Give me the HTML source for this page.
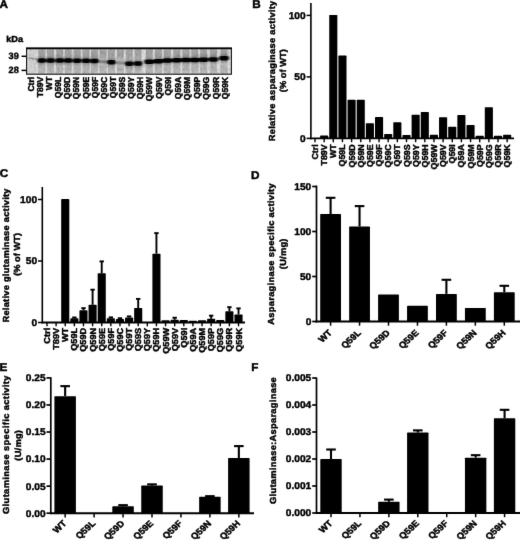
<!DOCTYPE html>
<html><head><meta charset="utf-8"><title>Figure</title>
<style>
html,body{margin:0;padding:0;background:#fff;}
body{width:520px;height:540px;overflow:hidden;}
svg{display:block;font-family:"Liberation Sans", sans-serif;font-weight:bold;fill:#000;text-rendering:geometricPrecision;}
text{stroke:#000;stroke-width:0.45px;stroke-linejoin:round;}
text.tk{stroke-width:0.4px;}
</style></head><body>
<svg width="520" height="540" viewBox="0 0 520 540">
<defs><filter id="soft" x="0" y="0" width="520" height="540" filterUnits="userSpaceOnUse" color-interpolation-filters="sRGB"><feConvolveMatrix order="3" kernelMatrix="1 12 1 12 144 12 1 12 1" divisor="196" edgeMode="duplicate" preserveAlpha="false"/></filter></defs>
<rect x="0" y="0" width="520" height="540" fill="#fff"/>
<g filter="url(#soft)">
<rect x="0" y="0" width="520" height="540" fill="#fff"/>
<text transform="translate(-0.40,8.10) scale(1.05,1)" font-size="11.2" text-anchor="start" >A</text>
<text transform="translate(6.20,42.00) scale(1.04,1)" font-size="8.8" text-anchor="start" >kDa</text>
<text transform="translate(8.60,58.80)" font-size="9.2" text-anchor="start" class="tk">39</text>
<text transform="translate(8.60,73.40)" font-size="9.2" text-anchor="start" class="tk">28</text>
<line x1="21.50" y1="56.30" x2="26.50" y2="56.30" stroke="#000" stroke-width="1.5"/>
<line x1="21.50" y1="70.40" x2="26.50" y2="70.40" stroke="#000" stroke-width="1.5"/>
<defs>
<filter id="b1" x="-20%" y="-50%" width="140%" height="200%" color-interpolation-filters="sRGB"><feGaussianBlur stdDeviation="0.8 0.7"/></filter>
<filter id="b2" x="-20%" y="-20%" width="140%" height="140%" color-interpolation-filters="sRGB"><feGaussianBlur stdDeviation="0.7 1.6"/></filter>
<filter id="b3" x="-30%" y="-60%" width="160%" height="220%" color-interpolation-filters="sRGB"><feGaussianBlur stdDeviation="1.2 1.8"/></filter>
<filter id="nz" x="0" y="0" width="100%" height="100%" color-interpolation-filters="sRGB"><feTurbulence type="fractalNoise" baseFrequency="0.5 0.35" numOctaves="2" seed="3" result="t"/><feColorMatrix type="matrix" values="0 0 0 0 0  0 0 0 0 0  0 0 0 0 0  0.9 0 0 0 -0.32"/></filter>
<clipPath id="gc"><rect x="26.6" y="48" width="204.8" height="26.200000000000003"/></clipPath>
</defs>
<rect x="26.60" y="48.00" width="204.80" height="26.20" fill="#dedede"/>
<g clip-path="url(#gc)">
<g filter="url(#b2)">
<rect x="28.90" y="48" width="7.2" height="26.200000000000003" fill="#000" opacity="0.04"/>
<rect x="38.30" y="48" width="7.0" height="26.200000000000003" fill="#000" opacity="0.15"/>
<rect x="38.30" y="49.5" width="7.0" height="8" fill="#000" opacity="0.13"/>
<rect x="38.10" y="67" width="7.4" height="3" fill="#000" opacity="0.06"/>
<rect x="47.10" y="48" width="7.0" height="26.200000000000003" fill="#000" opacity="0.15"/>
<rect x="47.10" y="49.5" width="7.0" height="8" fill="#000" opacity="0.13"/>
<rect x="46.90" y="67" width="7.4" height="3" fill="#000" opacity="0.06"/>
<rect x="56.20" y="48" width="7.0" height="26.200000000000003" fill="#000" opacity="0.15"/>
<rect x="56.20" y="49.5" width="7.0" height="8" fill="#000" opacity="0.13"/>
<rect x="56.00" y="67" width="7.4" height="3" fill="#000" opacity="0.06"/>
<rect x="64.70" y="48" width="7.0" height="26.200000000000003" fill="#000" opacity="0.15"/>
<rect x="64.70" y="49.5" width="7.0" height="8" fill="#000" opacity="0.13"/>
<rect x="64.50" y="67" width="7.4" height="3" fill="#000" opacity="0.06"/>
<rect x="73.60" y="48" width="7.0" height="26.200000000000003" fill="#000" opacity="0.15"/>
<rect x="73.60" y="49.5" width="7.0" height="8" fill="#000" opacity="0.13"/>
<rect x="73.40" y="67" width="7.4" height="3" fill="#000" opacity="0.06"/>
<rect x="82.50" y="48" width="7.0" height="26.200000000000003" fill="#000" opacity="0.15"/>
<rect x="82.50" y="49.5" width="7.0" height="8" fill="#000" opacity="0.13"/>
<rect x="82.30" y="67" width="7.4" height="3" fill="#000" opacity="0.06"/>
<rect x="91.00" y="48" width="7.0" height="26.200000000000003" fill="#000" opacity="0.15"/>
<rect x="91.00" y="49.5" width="7.0" height="8" fill="#000" opacity="0.13"/>
<rect x="90.80" y="67" width="7.4" height="3" fill="#000" opacity="0.06"/>
<rect x="99.50" y="48" width="7.0" height="26.200000000000003" fill="#000" opacity="0.15"/>
<rect x="99.50" y="49.5" width="7.0" height="8" fill="#000" opacity="0.13"/>
<rect x="99.30" y="67" width="7.4" height="3" fill="#000" opacity="0.06"/>
<rect x="107.90" y="48" width="7.0" height="26.200000000000003" fill="#000" opacity="0.15"/>
<rect x="107.90" y="49.5" width="7.0" height="8" fill="#000" opacity="0.13"/>
<rect x="107.70" y="67" width="7.4" height="3" fill="#000" opacity="0.06"/>
<rect x="116.80" y="48" width="7.0" height="26.200000000000003" fill="#000" opacity="0.15"/>
<rect x="116.80" y="49.5" width="7.0" height="8" fill="#000" opacity="0.13"/>
<rect x="116.60" y="67" width="7.4" height="3" fill="#000" opacity="0.06"/>
<rect x="125.70" y="48" width="7.0" height="26.200000000000003" fill="#000" opacity="0.15"/>
<rect x="125.70" y="49.5" width="7.0" height="8" fill="#000" opacity="0.13"/>
<rect x="125.50" y="67" width="7.4" height="3" fill="#000" opacity="0.06"/>
<rect x="134.50" y="48" width="7.0" height="26.200000000000003" fill="#000" opacity="0.15"/>
<rect x="134.50" y="49.5" width="7.0" height="8" fill="#000" opacity="0.13"/>
<rect x="134.30" y="67" width="7.4" height="3" fill="#000" opacity="0.06"/>
<rect x="145.80" y="48" width="7.0" height="26.200000000000003" fill="#000" opacity="0.15"/>
<rect x="145.80" y="49.5" width="7.0" height="8" fill="#000" opacity="0.13"/>
<rect x="145.60" y="67" width="7.4" height="3" fill="#000" opacity="0.06"/>
<rect x="154.90" y="48" width="7.0" height="26.200000000000003" fill="#000" opacity="0.15"/>
<rect x="154.90" y="49.5" width="7.0" height="8" fill="#000" opacity="0.13"/>
<rect x="154.70" y="67" width="7.4" height="3" fill="#000" opacity="0.06"/>
<rect x="163.80" y="48" width="7.0" height="26.200000000000003" fill="#000" opacity="0.15"/>
<rect x="163.80" y="49.5" width="7.0" height="8" fill="#000" opacity="0.13"/>
<rect x="163.60" y="67" width="7.4" height="3" fill="#000" opacity="0.06"/>
<rect x="173.30" y="48" width="7.0" height="26.200000000000003" fill="#000" opacity="0.15"/>
<rect x="173.30" y="49.5" width="7.0" height="8" fill="#000" opacity="0.13"/>
<rect x="173.10" y="67" width="7.4" height="3" fill="#000" opacity="0.06"/>
<rect x="182.50" y="48" width="7.0" height="26.200000000000003" fill="#000" opacity="0.15"/>
<rect x="182.50" y="49.5" width="7.0" height="8" fill="#000" opacity="0.13"/>
<rect x="182.30" y="67" width="7.4" height="3" fill="#000" opacity="0.06"/>
<rect x="191.30" y="48" width="7.0" height="26.200000000000003" fill="#000" opacity="0.15"/>
<rect x="191.30" y="49.5" width="7.0" height="8" fill="#000" opacity="0.13"/>
<rect x="191.10" y="67" width="7.4" height="3" fill="#000" opacity="0.06"/>
<rect x="200.20" y="48" width="7.0" height="26.200000000000003" fill="#000" opacity="0.15"/>
<rect x="200.20" y="49.5" width="7.0" height="8" fill="#000" opacity="0.13"/>
<rect x="200.00" y="67" width="7.4" height="3" fill="#000" opacity="0.06"/>
<rect x="209.90" y="48" width="7.0" height="26.200000000000003" fill="#000" opacity="0.15"/>
<rect x="209.90" y="49.5" width="7.0" height="8" fill="#000" opacity="0.13"/>
<rect x="209.70" y="67" width="7.4" height="3" fill="#000" opacity="0.06"/>
<rect x="220.50" y="48" width="7.0" height="26.200000000000003" fill="#000" opacity="0.15"/>
<rect x="220.50" y="49.5" width="7.0" height="8" fill="#000" opacity="0.13"/>
<rect x="220.30" y="67" width="7.4" height="3" fill="#000" opacity="0.06"/>
</g>
<rect x="26.6" y="48" width="204.8" height="26.200000000000003" filter="url(#nz)" opacity="0.30"/>
<g filter="url(#b3)">
<rect x="37.50" y="57.00" width="8.6" height="7.2" rx="2" fill="#000" opacity="0.30"/>
<rect x="46.30" y="57.00" width="8.6" height="7.2" rx="2" fill="#000" opacity="0.30"/>
<rect x="55.40" y="57.00" width="8.6" height="7.2" rx="2" fill="#000" opacity="0.30"/>
<rect x="63.90" y="57.00" width="8.6" height="7.2" rx="2" fill="#000" opacity="0.30"/>
<rect x="72.80" y="57.10" width="8.6" height="7.2" rx="2" fill="#000" opacity="0.30"/>
<rect x="81.70" y="57.20" width="8.6" height="7.2" rx="2" fill="#000" opacity="0.30"/>
<rect x="90.20" y="57.30" width="8.6" height="7.2" rx="2" fill="#000" opacity="0.30"/>
<rect x="107.10" y="58.60" width="8.6" height="7.2" rx="2" fill="#000" opacity="0.30"/>
<rect x="124.90" y="60.10" width="8.6" height="7.2" rx="2" fill="#000" opacity="0.30"/>
<rect x="133.70" y="60.00" width="8.6" height="7.2" rx="2" fill="#000" opacity="0.30"/>
<rect x="145.00" y="58.20" width="8.6" height="7.2" rx="2" fill="#000" opacity="0.30"/>
<rect x="154.10" y="57.60" width="8.6" height="7.2" rx="2" fill="#000" opacity="0.30"/>
<rect x="163.00" y="57.00" width="8.6" height="7.2" rx="2" fill="#000" opacity="0.30"/>
<rect x="172.50" y="56.70" width="8.6" height="7.2" rx="2" fill="#000" opacity="0.30"/>
<rect x="181.70" y="56.50" width="8.6" height="7.2" rx="2" fill="#000" opacity="0.30"/>
<rect x="190.50" y="56.40" width="8.6" height="7.2" rx="2" fill="#000" opacity="0.30"/>
<rect x="199.40" y="56.10" width="8.6" height="7.2" rx="2" fill="#000" opacity="0.30"/>
<rect x="209.10" y="55.80" width="8.6" height="7.2" rx="2" fill="#000" opacity="0.30"/>
<rect x="219.70" y="54.60" width="8.6" height="7.2" rx="2" fill="#000" opacity="0.30"/>
</g>
<g filter="url(#b1)">
<rect x="37.50" y="58.35" width="8.6" height="4.5" rx="2.1" fill="#000"/>
<rect x="46.30" y="58.35" width="8.6" height="4.5" rx="2.1" fill="#000"/>
<rect x="55.40" y="58.35" width="8.6" height="4.5" rx="2.1" fill="#000"/>
<rect x="63.90" y="58.35" width="8.6" height="4.5" rx="2.1" fill="#000"/>
<rect x="72.80" y="58.45" width="8.6" height="4.5" rx="2.1" fill="#000"/>
<rect x="81.70" y="58.55" width="8.6" height="4.5" rx="2.1" fill="#000"/>
<rect x="90.20" y="58.65" width="8.6" height="4.5" rx="2.1" fill="#000"/>
<rect x="107.10" y="59.95" width="8.6" height="4.5" rx="2.1" fill="#000"/>
<rect x="124.90" y="61.45" width="8.6" height="4.5" rx="2.1" fill="#000"/>
<rect x="133.70" y="61.35" width="8.6" height="4.5" rx="2.1" fill="#000"/>
<rect x="144.40" y="59.55" width="9.8" height="4.5" rx="2.1" fill="#000"/>
<rect x="153.50" y="58.95" width="9.8" height="4.5" rx="2.1" fill="#000"/>
<rect x="162.40" y="58.35" width="9.8" height="4.5" rx="2.1" fill="#000"/>
<rect x="171.90" y="58.05" width="9.8" height="4.5" rx="2.1" fill="#000"/>
<rect x="181.10" y="57.85" width="9.8" height="4.5" rx="2.1" fill="#000"/>
<rect x="189.90" y="57.75" width="9.8" height="4.5" rx="2.1" fill="#000"/>
<rect x="198.80" y="57.45" width="9.8" height="4.5" rx="2.1" fill="#000"/>
<rect x="208.50" y="57.15" width="9.8" height="4.5" rx="2.1" fill="#000"/>
<rect x="219.10" y="55.95" width="9.8" height="4.5" rx="2.1" fill="#000"/>
<path d="M28.50,57.8 L36.50,59.2" stroke="#000" stroke-width="1.8" opacity="0.30" fill="none"/>
<rect x="99.00" y="60.2" width="8" height="3.0" rx="1.4" fill="#000" opacity="0.30"/>
<rect x="116.30" y="61.4" width="8" height="3.0" rx="1.4" fill="#000" opacity="0.25"/>
</g>
</g>
<rect x="26.6" y="48" width="204.8" height="26.200000000000003" fill="none" stroke="#111" stroke-width="1.1"/>
<line x1="26.10" y1="48.50" x2="231.90" y2="48.50" stroke="#000" stroke-width="1.3"/>
<text transform="translate(34.20,76.80) rotate(-90)" font-size="8.6" text-anchor="end" >Ctrl</text>
<text transform="translate(43.25,76.80) rotate(-90)" font-size="8.6" text-anchor="end" >T89V</text>
<text transform="translate(52.30,76.80) rotate(-90)" font-size="8.6" text-anchor="end" >WT</text>
<text transform="translate(61.35,76.80) rotate(-90)" font-size="8.6" text-anchor="end" >Q59L</text>
<text transform="translate(70.40,76.80) rotate(-90)" font-size="8.6" text-anchor="end" >Q59D</text>
<text transform="translate(79.45,76.80) rotate(-90)" font-size="8.6" text-anchor="end" >Q59N</text>
<text transform="translate(88.50,76.80) rotate(-90)" font-size="8.6" text-anchor="end" >Q59E</text>
<text transform="translate(97.55,76.80) rotate(-90)" font-size="8.6" text-anchor="end" >Q59F</text>
<text transform="translate(106.60,76.80) rotate(-90)" font-size="8.6" text-anchor="end" >Q59C</text>
<text transform="translate(115.65,76.80) rotate(-90)" font-size="8.6" text-anchor="end" >Q59T</text>
<text transform="translate(124.70,76.80) rotate(-90)" font-size="8.6" text-anchor="end" >Q59S</text>
<text transform="translate(133.75,76.80) rotate(-90)" font-size="8.6" text-anchor="end" >Q59Y</text>
<text transform="translate(142.80,76.80) rotate(-90)" font-size="8.6" text-anchor="end" >Q59H</text>
<text transform="translate(152.40,76.80) rotate(-90)" font-size="8.6" text-anchor="end" >Q59W</text>
<text transform="translate(161.90,76.80) rotate(-90)" font-size="8.6" text-anchor="end" >Q59V</text>
<text transform="translate(171.40,76.80) rotate(-90)" font-size="8.6" text-anchor="end" >Q59I</text>
<text transform="translate(180.90,76.80) rotate(-90)" font-size="8.6" text-anchor="end" >Q59A</text>
<text transform="translate(190.40,76.80) rotate(-90)" font-size="8.6" text-anchor="end" >Q59M</text>
<text transform="translate(199.90,76.80) rotate(-90)" font-size="8.6" text-anchor="end" >Q59P</text>
<text transform="translate(209.40,76.80) rotate(-90)" font-size="8.6" text-anchor="end" >Q59G</text>
<text transform="translate(218.90,76.80) rotate(-90)" font-size="8.6" text-anchor="end" >Q59R</text>
<text transform="translate(228.40,76.80) rotate(-90)" font-size="8.6" text-anchor="end" >Q59K</text>
<text transform="translate(252.20,8.10) scale(1.05,1)" font-size="11.2" text-anchor="start" >B</text>
<line x1="310.90" y1="3.00" x2="310.90" y2="139.20" stroke="#000" stroke-width="1.6"/>
<line x1="310.10" y1="138.40" x2="514.00" y2="138.40" stroke="#000" stroke-width="1.8"/>
<line x1="306.60" y1="138.40" x2="310.90" y2="138.40" stroke="#000" stroke-width="1.5"/>
<text transform="translate(305.70,142.00) scale(1.04,1)" font-size="9.8" text-anchor="end" class="tk">0</text>
<line x1="306.60" y1="76.90" x2="310.90" y2="76.90" stroke="#000" stroke-width="1.5"/>
<text transform="translate(305.70,80.00) scale(1.04,1)" font-size="9.8" text-anchor="end" class="tk">50</text>
<line x1="306.60" y1="15.40" x2="310.90" y2="15.40" stroke="#000" stroke-width="1.5"/>
<text transform="translate(305.70,19.00) scale(1.04,1)" font-size="9.8" text-anchor="end" class="tk">100</text>
<line x1="315.00" y1="138.40" x2="315.00" y2="142.20" stroke="#000" stroke-width="1.4"/>
<text transform="translate(318.00,144.30) rotate(-90) scale(1.03,1)" font-size="8.6" text-anchor="end" >Ctrl</text>
<line x1="324.15" y1="138.40" x2="324.15" y2="142.20" stroke="#000" stroke-width="1.4"/>
<rect x="320.10" y="135.44" width="8.10" height="2.96" rx="0.7" fill="#000"/>
<text transform="translate(327.15,144.30) rotate(-90) scale(1.03,1)" font-size="8.6" text-anchor="end" >T89V</text>
<line x1="333.30" y1="138.40" x2="333.30" y2="142.20" stroke="#000" stroke-width="1.4"/>
<rect x="329.25" y="14.90" width="8.10" height="123.50" rx="0.7" fill="#000"/>
<text transform="translate(336.30,144.30) rotate(-90) scale(1.03,1)" font-size="8.6" text-anchor="end" >WT</text>
<line x1="342.45" y1="138.40" x2="342.45" y2="142.20" stroke="#000" stroke-width="1.4"/>
<rect x="338.40" y="55.49" width="8.10" height="82.91" rx="0.7" fill="#000"/>
<text transform="translate(345.45,144.30) rotate(-90) scale(1.03,1)" font-size="8.6" text-anchor="end" >Q59L</text>
<line x1="351.60" y1="138.40" x2="351.60" y2="142.20" stroke="#000" stroke-width="1.4"/>
<rect x="347.55" y="99.77" width="8.10" height="38.63" rx="0.7" fill="#000"/>
<text transform="translate(354.60,144.30) rotate(-90) scale(1.03,1)" font-size="8.6" text-anchor="end" >Q59D</text>
<line x1="360.75" y1="138.40" x2="360.75" y2="142.20" stroke="#000" stroke-width="1.4"/>
<rect x="356.70" y="99.77" width="8.10" height="38.63" rx="0.7" fill="#000"/>
<text transform="translate(363.75,144.30) rotate(-90) scale(1.03,1)" font-size="8.6" text-anchor="end" >Q59N</text>
<line x1="369.90" y1="138.40" x2="369.90" y2="142.20" stroke="#000" stroke-width="1.4"/>
<rect x="365.85" y="123.14" width="8.10" height="15.26" rx="0.7" fill="#000"/>
<text transform="translate(372.90,144.30) rotate(-90) scale(1.03,1)" font-size="8.6" text-anchor="end" >Q59E</text>
<line x1="379.05" y1="138.40" x2="379.05" y2="142.20" stroke="#000" stroke-width="1.4"/>
<rect x="375.00" y="116.99" width="8.10" height="21.41" rx="0.7" fill="#000"/>
<text transform="translate(382.05,144.30) rotate(-90) scale(1.03,1)" font-size="8.6" text-anchor="end" >Q59F</text>
<line x1="388.20" y1="138.40" x2="388.20" y2="142.20" stroke="#000" stroke-width="1.4"/>
<rect x="384.15" y="133.96" width="8.10" height="4.44" rx="0.7" fill="#000"/>
<text transform="translate(391.20,144.30) rotate(-90) scale(1.03,1)" font-size="8.6" text-anchor="end" >Q59C</text>
<line x1="397.35" y1="138.40" x2="397.35" y2="142.20" stroke="#000" stroke-width="1.4"/>
<rect x="393.30" y="122.28" width="8.10" height="16.12" rx="0.7" fill="#000"/>
<text transform="translate(400.35,144.30) rotate(-90) scale(1.03,1)" font-size="8.6" text-anchor="end" >Q59T</text>
<line x1="406.50" y1="138.40" x2="406.50" y2="142.20" stroke="#000" stroke-width="1.4"/>
<rect x="402.45" y="135.07" width="8.10" height="3.33" rx="0.7" fill="#000"/>
<text transform="translate(409.50,144.30) rotate(-90) scale(1.03,1)" font-size="8.6" text-anchor="end" >Q59S</text>
<line x1="415.65" y1="138.40" x2="415.65" y2="142.20" stroke="#000" stroke-width="1.4"/>
<rect x="411.60" y="114.78" width="8.10" height="23.62" rx="0.7" fill="#000"/>
<text transform="translate(418.65,144.30) rotate(-90) scale(1.03,1)" font-size="8.6" text-anchor="end" >Q59Y</text>
<line x1="424.80" y1="138.40" x2="424.80" y2="142.20" stroke="#000" stroke-width="1.4"/>
<rect x="420.75" y="112.07" width="8.10" height="26.33" rx="0.7" fill="#000"/>
<text transform="translate(427.80,144.30) rotate(-90) scale(1.03,1)" font-size="8.6" text-anchor="end" >Q59H</text>
<line x1="433.95" y1="138.40" x2="433.95" y2="142.20" stroke="#000" stroke-width="1.4"/>
<rect x="429.90" y="134.70" width="8.10" height="3.70" rx="0.7" fill="#000"/>
<text transform="translate(436.95,144.30) rotate(-90) scale(1.03,1)" font-size="8.6" text-anchor="end" >Q59W</text>
<line x1="443.10" y1="138.40" x2="443.10" y2="142.20" stroke="#000" stroke-width="1.4"/>
<rect x="439.05" y="117.24" width="8.10" height="21.16" rx="0.7" fill="#000"/>
<text transform="translate(446.10,144.30) rotate(-90) scale(1.03,1)" font-size="8.6" text-anchor="end" >Q59V</text>
<line x1="452.25" y1="138.40" x2="452.25" y2="142.20" stroke="#000" stroke-width="1.4"/>
<rect x="448.20" y="126.83" width="8.10" height="11.57" rx="0.7" fill="#000"/>
<text transform="translate(455.25,144.30) rotate(-90) scale(1.03,1)" font-size="8.6" text-anchor="end" >Q59I</text>
<line x1="461.40" y1="138.40" x2="461.40" y2="142.20" stroke="#000" stroke-width="1.4"/>
<rect x="457.35" y="115.02" width="8.10" height="23.38" rx="0.7" fill="#000"/>
<text transform="translate(464.40,144.30) rotate(-90) scale(1.03,1)" font-size="8.6" text-anchor="end" >Q59A</text>
<line x1="470.55" y1="138.40" x2="470.55" y2="142.20" stroke="#000" stroke-width="1.4"/>
<rect x="466.50" y="124.99" width="8.10" height="13.41" rx="0.7" fill="#000"/>
<text transform="translate(473.55,144.30) rotate(-90) scale(1.03,1)" font-size="8.6" text-anchor="end" >Q59M</text>
<line x1="479.70" y1="138.40" x2="479.70" y2="142.20" stroke="#000" stroke-width="1.4"/>
<rect x="475.65" y="135.69" width="8.10" height="2.71" rx="0.7" fill="#000"/>
<text transform="translate(482.70,144.30) rotate(-90) scale(1.03,1)" font-size="8.6" text-anchor="end" >Q59P</text>
<line x1="488.85" y1="138.40" x2="488.85" y2="142.20" stroke="#000" stroke-width="1.4"/>
<rect x="484.80" y="107.15" width="8.10" height="31.25" rx="0.7" fill="#000"/>
<text transform="translate(491.85,144.30) rotate(-90) scale(1.03,1)" font-size="8.6" text-anchor="end" >Q59G</text>
<line x1="498.00" y1="138.40" x2="498.00" y2="142.20" stroke="#000" stroke-width="1.4"/>
<rect x="493.95" y="135.69" width="8.10" height="2.71" rx="0.7" fill="#000"/>
<text transform="translate(501.00,144.30) rotate(-90) scale(1.03,1)" font-size="8.6" text-anchor="end" >Q59R</text>
<line x1="507.15" y1="138.40" x2="507.15" y2="142.20" stroke="#000" stroke-width="1.4"/>
<rect x="503.10" y="134.70" width="8.10" height="3.70" rx="0.7" fill="#000"/>
<text transform="translate(510.15,144.30) rotate(-90) scale(1.03,1)" font-size="8.6" text-anchor="end" >Q59K</text>
<text transform="translate(274.80,141.30) scale(0.946236559139785,1) rotate(-90)" font-size="9.3" text-anchor="start" textLength="140.60" lengthAdjust="spacing" >Relative asparaginase activity</text>
<text transform="translate(286.00,92.15) scale(0.946236559139785,1) rotate(-90)" font-size="9.3" text-anchor="start" textLength="42.90" lengthAdjust="spacing" >(% of WT)</text>
<text transform="translate(-0.20,176.50) scale(1.05,1)" font-size="11.2" text-anchor="start" >C</text>
<line x1="42.30" y1="187.00" x2="42.30" y2="323.30" stroke="#000" stroke-width="1.6"/>
<line x1="41.50" y1="322.50" x2="245.00" y2="322.50" stroke="#000" stroke-width="1.8"/>
<line x1="38.00" y1="322.50" x2="42.30" y2="322.50" stroke="#000" stroke-width="1.5"/>
<text transform="translate(37.10,326.00) scale(1.04,1)" font-size="9.8" text-anchor="end" class="tk">0</text>
<line x1="38.00" y1="261.00" x2="42.30" y2="261.00" stroke="#000" stroke-width="1.5"/>
<text transform="translate(37.10,264.00) scale(1.04,1)" font-size="9.8" text-anchor="end" class="tk">50</text>
<line x1="38.00" y1="199.50" x2="42.30" y2="199.50" stroke="#000" stroke-width="1.5"/>
<text transform="translate(37.10,203.00) scale(1.04,1)" font-size="9.8" text-anchor="end" class="tk">100</text>
<line x1="47.00" y1="322.50" x2="47.00" y2="326.30" stroke="#000" stroke-width="1.4"/>
<text transform="translate(50.00,327.80) rotate(-90) scale(1.07,1)" font-size="8.6" text-anchor="end" >Ctrl</text>
<line x1="56.12" y1="322.50" x2="56.12" y2="326.30" stroke="#000" stroke-width="1.4"/>
<text transform="translate(59.12,327.80) rotate(-90) scale(1.07,1)" font-size="8.6" text-anchor="end" >T89V</text>
<line x1="65.24" y1="322.50" x2="65.24" y2="326.30" stroke="#000" stroke-width="1.4"/>
<rect x="61.19" y="199.00" width="8.10" height="123.50" rx="0.7" fill="#000"/>
<text transform="translate(68.24,327.80) rotate(-90) scale(1.07,1)" font-size="8.6" text-anchor="end" >WT</text>
<line x1="74.36" y1="322.50" x2="74.36" y2="326.30" stroke="#000" stroke-width="1.4"/>
<line x1="74.36" y1="317.49" x2="74.36" y2="318.31" stroke="#000" stroke-width="1.9"/>
<line x1="72.16" y1="317.49" x2="76.56" y2="317.49" stroke="#000" stroke-width="1.9"/>
<rect x="70.31" y="318.31" width="8.10" height="4.19" rx="0.7" fill="#000"/>
<text transform="translate(77.36,327.80) rotate(-90) scale(1.07,1)" font-size="8.6" text-anchor="end" >Q59L</text>
<line x1="83.48" y1="322.50" x2="83.48" y2="326.30" stroke="#000" stroke-width="1.4"/>
<line x1="83.48" y1="308.14" x2="83.48" y2="310.31" stroke="#000" stroke-width="1.9"/>
<line x1="81.28" y1="308.14" x2="85.68" y2="308.14" stroke="#000" stroke-width="1.9"/>
<rect x="79.43" y="310.31" width="8.10" height="12.19" rx="0.7" fill="#000"/>
<text transform="translate(86.48,327.80) rotate(-90) scale(1.07,1)" font-size="8.6" text-anchor="end" >Q59D</text>
<line x1="92.60" y1="322.50" x2="92.60" y2="326.30" stroke="#000" stroke-width="1.4"/>
<line x1="92.60" y1="289.69" x2="92.60" y2="304.78" stroke="#000" stroke-width="1.9"/>
<line x1="90.40" y1="289.69" x2="94.80" y2="289.69" stroke="#000" stroke-width="1.9"/>
<rect x="88.55" y="304.78" width="8.10" height="17.72" rx="0.7" fill="#000"/>
<text transform="translate(95.60,327.80) rotate(-90) scale(1.07,1)" font-size="8.6" text-anchor="end" >Q59N</text>
<line x1="101.72" y1="322.50" x2="101.72" y2="326.30" stroke="#000" stroke-width="1.4"/>
<line x1="101.72" y1="261.40" x2="101.72" y2="273.29" stroke="#000" stroke-width="1.9"/>
<line x1="99.52" y1="261.40" x2="103.92" y2="261.40" stroke="#000" stroke-width="1.9"/>
<rect x="97.67" y="273.29" width="8.10" height="49.21" rx="0.7" fill="#000"/>
<text transform="translate(104.72,327.80) rotate(-90) scale(1.07,1)" font-size="8.6" text-anchor="end" >Q59E</text>
<line x1="110.84" y1="322.50" x2="110.84" y2="326.30" stroke="#000" stroke-width="1.4"/>
<line x1="110.84" y1="317.36" x2="110.84" y2="318.31" stroke="#000" stroke-width="1.9"/>
<line x1="108.64" y1="317.36" x2="113.04" y2="317.36" stroke="#000" stroke-width="1.9"/>
<rect x="106.79" y="318.31" width="8.10" height="4.19" rx="0.7" fill="#000"/>
<text transform="translate(113.84,327.80) rotate(-90) scale(1.07,1)" font-size="8.6" text-anchor="end" >Q59F</text>
<line x1="119.96" y1="322.50" x2="119.96" y2="326.30" stroke="#000" stroke-width="1.4"/>
<line x1="119.96" y1="318.23" x2="119.96" y2="318.93" stroke="#000" stroke-width="1.9"/>
<line x1="117.76" y1="318.23" x2="122.16" y2="318.23" stroke="#000" stroke-width="1.9"/>
<rect x="115.91" y="318.93" width="8.10" height="3.58" rx="0.7" fill="#000"/>
<text transform="translate(122.96,327.80) rotate(-90) scale(1.07,1)" font-size="8.6" text-anchor="end" >Q59C</text>
<line x1="129.08" y1="322.50" x2="129.08" y2="326.30" stroke="#000" stroke-width="1.4"/>
<line x1="129.08" y1="316.38" x2="129.08" y2="317.45" stroke="#000" stroke-width="1.9"/>
<line x1="126.88" y1="316.38" x2="131.28" y2="316.38" stroke="#000" stroke-width="1.9"/>
<rect x="125.03" y="317.45" width="8.10" height="5.05" rx="0.7" fill="#000"/>
<text transform="translate(132.08,327.80) rotate(-90) scale(1.07,1)" font-size="8.6" text-anchor="end" >Q59T</text>
<line x1="138.20" y1="322.50" x2="138.20" y2="326.30" stroke="#000" stroke-width="1.4"/>
<line x1="138.20" y1="298.91" x2="138.20" y2="307.98" stroke="#000" stroke-width="1.9"/>
<line x1="136.00" y1="298.91" x2="140.40" y2="298.91" stroke="#000" stroke-width="1.9"/>
<rect x="134.15" y="307.98" width="8.10" height="14.52" rx="0.7" fill="#000"/>
<text transform="translate(141.20,327.80) rotate(-90) scale(1.07,1)" font-size="8.6" text-anchor="end" >Q59S</text>
<line x1="147.32" y1="322.50" x2="147.32" y2="326.30" stroke="#000" stroke-width="1.4"/>
<text transform="translate(150.32,327.80) rotate(-90) scale(1.07,1)" font-size="8.6" text-anchor="end" >Q59Y</text>
<line x1="156.44" y1="322.50" x2="156.44" y2="326.30" stroke="#000" stroke-width="1.4"/>
<line x1="156.44" y1="233.11" x2="156.44" y2="253.74" stroke="#000" stroke-width="1.9"/>
<line x1="154.24" y1="233.11" x2="158.64" y2="233.11" stroke="#000" stroke-width="1.9"/>
<rect x="152.39" y="253.74" width="8.10" height="68.77" rx="0.7" fill="#000"/>
<text transform="translate(159.44,327.80) rotate(-90) scale(1.07,1)" font-size="8.6" text-anchor="end" >Q59H</text>
<line x1="165.56" y1="322.50" x2="165.56" y2="326.30" stroke="#000" stroke-width="1.4"/>
<rect x="161.51" y="320.15" width="8.10" height="2.34" rx="0.7" fill="#000"/>
<text transform="translate(168.56,327.80) rotate(-90) scale(1.07,1)" font-size="8.6" text-anchor="end" >Q59W</text>
<line x1="174.68" y1="322.50" x2="174.68" y2="326.30" stroke="#000" stroke-width="1.4"/>
<line x1="174.68" y1="317.73" x2="174.68" y2="319.79" stroke="#000" stroke-width="1.9"/>
<line x1="172.48" y1="317.73" x2="176.88" y2="317.73" stroke="#000" stroke-width="1.9"/>
<rect x="170.63" y="319.79" width="8.10" height="2.71" rx="0.7" fill="#000"/>
<text transform="translate(177.68,327.80) rotate(-90) scale(1.07,1)" font-size="8.6" text-anchor="end" >Q59V</text>
<line x1="183.80" y1="322.50" x2="183.80" y2="326.30" stroke="#000" stroke-width="1.4"/>
<rect x="179.75" y="320.03" width="8.10" height="2.47" rx="0.7" fill="#000"/>
<text transform="translate(186.80,327.80) rotate(-90) scale(1.07,1)" font-size="8.6" text-anchor="end" >Q59I</text>
<line x1="192.92" y1="322.50" x2="192.92" y2="326.30" stroke="#000" stroke-width="1.4"/>
<rect x="188.87" y="320.77" width="8.10" height="1.73" rx="0.7" fill="#000"/>
<text transform="translate(195.92,327.80) rotate(-90) scale(1.07,1)" font-size="8.6" text-anchor="end" >Q59A</text>
<line x1="202.04" y1="322.50" x2="202.04" y2="326.30" stroke="#000" stroke-width="1.4"/>
<rect x="197.99" y="320.15" width="8.10" height="2.34" rx="0.7" fill="#000"/>
<text transform="translate(205.04,327.80) rotate(-90) scale(1.07,1)" font-size="8.6" text-anchor="end" >Q59M</text>
<line x1="211.16" y1="322.50" x2="211.16" y2="326.30" stroke="#000" stroke-width="1.4"/>
<line x1="211.16" y1="315.64" x2="211.16" y2="318.80" stroke="#000" stroke-width="1.9"/>
<line x1="208.96" y1="315.64" x2="213.36" y2="315.64" stroke="#000" stroke-width="1.9"/>
<rect x="207.11" y="318.80" width="8.10" height="3.70" rx="0.7" fill="#000"/>
<text transform="translate(214.16,327.80) rotate(-90) scale(1.07,1)" font-size="8.6" text-anchor="end" >Q59P</text>
<line x1="220.28" y1="322.50" x2="220.28" y2="326.30" stroke="#000" stroke-width="1.4"/>
<rect x="216.23" y="320.03" width="8.10" height="2.47" rx="0.7" fill="#000"/>
<text transform="translate(223.28,327.80) rotate(-90) scale(1.07,1)" font-size="8.6" text-anchor="end" >Q59G</text>
<line x1="229.40" y1="322.50" x2="229.40" y2="326.30" stroke="#000" stroke-width="1.4"/>
<line x1="229.40" y1="307.16" x2="229.40" y2="311.30" stroke="#000" stroke-width="1.9"/>
<line x1="227.20" y1="307.16" x2="231.60" y2="307.16" stroke="#000" stroke-width="1.9"/>
<rect x="225.35" y="311.30" width="8.10" height="11.20" rx="0.7" fill="#000"/>
<text transform="translate(232.40,327.80) rotate(-90) scale(1.07,1)" font-size="8.6" text-anchor="end" >Q59R</text>
<line x1="238.52" y1="322.50" x2="238.52" y2="326.30" stroke="#000" stroke-width="1.4"/>
<line x1="238.52" y1="308.39" x2="238.52" y2="314.50" stroke="#000" stroke-width="1.9"/>
<line x1="236.32" y1="308.39" x2="240.72" y2="308.39" stroke="#000" stroke-width="1.9"/>
<rect x="234.47" y="314.50" width="8.10" height="8.00" rx="0.7" fill="#000"/>
<text transform="translate(241.52,327.80) rotate(-90) scale(1.07,1)" font-size="8.6" text-anchor="end" >Q59K</text>
<text transform="translate(9.00,322.55) scale(0.946236559139785,1) rotate(-90)" font-size="9.3" text-anchor="start" textLength="134.10" lengthAdjust="spacing" >Relative glutaminase activity</text>
<text transform="translate(20.20,275.85) scale(0.946236559139785,1) rotate(-90)" font-size="9.3" text-anchor="start" textLength="42.90" lengthAdjust="spacing" >(% of WT)</text>
<text transform="translate(251.10,178.60) scale(1.05,1)" font-size="11.2" text-anchor="start" >D</text>
<line x1="316.50" y1="185.60" x2="316.50" y2="322.35" stroke="#000" stroke-width="1.7"/>
<line x1="315.65" y1="321.50" x2="520.00" y2="321.50" stroke="#000" stroke-width="2.0"/>
<line x1="312.20" y1="321.50" x2="316.50" y2="321.50" stroke="#000" stroke-width="1.7"/>
<text transform="translate(311.30,325.00) scale(1.04,1)" font-size="9.8" text-anchor="end" class="tk">0</text>
<line x1="312.20" y1="276.50" x2="316.50" y2="276.50" stroke="#000" stroke-width="1.7"/>
<text transform="translate(311.30,280.00) scale(1.04,1)" font-size="9.8" text-anchor="end" class="tk">50</text>
<line x1="312.20" y1="231.50" x2="316.50" y2="231.50" stroke="#000" stroke-width="1.7"/>
<text transform="translate(311.30,235.00) scale(1.04,1)" font-size="9.8" text-anchor="end" class="tk">100</text>
<line x1="312.20" y1="186.50" x2="316.50" y2="186.50" stroke="#000" stroke-width="1.7"/>
<text transform="translate(311.30,190.00) scale(1.04,1)" font-size="9.8" text-anchor="end" class="tk">150</text>
<line x1="330.60" y1="321.50" x2="330.60" y2="325.70" stroke="#000" stroke-width="1.5"/>
<line x1="330.60" y1="197.80" x2="330.60" y2="214.00" stroke="#000" stroke-width="2.1"/>
<line x1="325.80" y1="197.80" x2="335.40" y2="197.80" stroke="#000" stroke-width="2.1"/>
<rect x="320.20" y="214.00" width="20.80" height="107.50" rx="0.7" fill="#000"/>
<text transform="translate(332.60,333.40) scale(1.07,1) rotate(-45)" font-size="8.8" text-anchor="end" >WT</text>
<line x1="359.55" y1="321.50" x2="359.55" y2="325.70" stroke="#000" stroke-width="1.5"/>
<line x1="359.55" y1="206.10" x2="359.55" y2="226.50" stroke="#000" stroke-width="2.1"/>
<line x1="354.75" y1="206.10" x2="364.35" y2="206.10" stroke="#000" stroke-width="2.1"/>
<rect x="349.15" y="226.50" width="20.80" height="95.00" rx="0.7" fill="#000"/>
<text transform="translate(361.55,333.40) scale(1.07,1) rotate(-45)" font-size="8.8" text-anchor="end" >Q59L</text>
<line x1="388.50" y1="321.50" x2="388.50" y2="325.70" stroke="#000" stroke-width="1.5"/>
<rect x="378.10" y="294.50" width="20.80" height="27.00" rx="0.7" fill="#000"/>
<text transform="translate(390.50,333.40) scale(1.07,1) rotate(-45)" font-size="8.8" text-anchor="end" >Q59D</text>
<line x1="417.45" y1="321.50" x2="417.45" y2="325.70" stroke="#000" stroke-width="1.5"/>
<rect x="407.05" y="305.80" width="20.80" height="15.70" rx="0.7" fill="#000"/>
<text transform="translate(419.45,333.40) scale(1.07,1) rotate(-45)" font-size="8.8" text-anchor="end" >Q59E</text>
<line x1="446.40" y1="321.50" x2="446.40" y2="325.70" stroke="#000" stroke-width="1.5"/>
<line x1="446.40" y1="279.80" x2="446.40" y2="293.90" stroke="#000" stroke-width="2.1"/>
<line x1="441.60" y1="279.80" x2="451.20" y2="279.80" stroke="#000" stroke-width="2.1"/>
<rect x="436.00" y="293.90" width="20.80" height="27.60" rx="0.7" fill="#000"/>
<text transform="translate(448.40,333.40) scale(1.07,1) rotate(-45)" font-size="8.8" text-anchor="end" >Q59F</text>
<line x1="475.35" y1="321.50" x2="475.35" y2="325.70" stroke="#000" stroke-width="1.5"/>
<rect x="464.95" y="307.90" width="20.80" height="13.60" rx="0.7" fill="#000"/>
<text transform="translate(477.35,333.40) scale(1.07,1) rotate(-45)" font-size="8.8" text-anchor="end" >Q59N</text>
<line x1="504.30" y1="321.50" x2="504.30" y2="325.70" stroke="#000" stroke-width="1.5"/>
<line x1="504.30" y1="285.80" x2="504.30" y2="292.30" stroke="#000" stroke-width="2.1"/>
<line x1="499.50" y1="285.80" x2="509.10" y2="285.80" stroke="#000" stroke-width="2.1"/>
<rect x="493.90" y="292.30" width="20.80" height="29.20" rx="0.7" fill="#000"/>
<text transform="translate(506.30,333.40) scale(1.07,1) rotate(-45)" font-size="8.8" text-anchor="end" >Q59H</text>
<text transform="translate(274.40,324.65) scale(0.946236559139785,1) rotate(-90)" font-size="9.3" text-anchor="start" textLength="141.30" lengthAdjust="spacing" >Asparaginase specific activity</text>
<text transform="translate(286.00,269.20) scale(0.946236559139785,1) rotate(-90)" font-size="9.3" text-anchor="start" textLength="30.60" lengthAdjust="spacing" >(U/mg)</text>
<text transform="translate(-0.60,370.60) scale(1.05,1)" font-size="11.2" text-anchor="start" >E</text>
<line x1="50.80" y1="377.30" x2="50.80" y2="514.05" stroke="#000" stroke-width="1.7"/>
<line x1="49.95" y1="513.20" x2="254.00" y2="513.20" stroke="#000" stroke-width="2.0"/>
<line x1="46.50" y1="513.20" x2="50.80" y2="513.20" stroke="#000" stroke-width="1.7"/>
<text transform="translate(45.60,517.00) scale(1.04,1)" font-size="9.8" text-anchor="end" class="tk">0.00</text>
<line x1="46.50" y1="486.14" x2="50.80" y2="486.14" stroke="#000" stroke-width="1.7"/>
<text transform="translate(45.60,490.00) scale(1.04,1)" font-size="9.8" text-anchor="end" class="tk">0.05</text>
<line x1="46.50" y1="459.08" x2="50.80" y2="459.08" stroke="#000" stroke-width="1.7"/>
<text transform="translate(45.60,462.00) scale(1.04,1)" font-size="9.8" text-anchor="end" class="tk">0.10</text>
<line x1="46.50" y1="432.02" x2="50.80" y2="432.02" stroke="#000" stroke-width="1.7"/>
<text transform="translate(45.60,435.00) scale(1.04,1)" font-size="9.8" text-anchor="end" class="tk">0.15</text>
<line x1="46.50" y1="404.96" x2="50.80" y2="404.96" stroke="#000" stroke-width="1.7"/>
<text transform="translate(45.60,408.00) scale(1.04,1)" font-size="9.8" text-anchor="end" class="tk">0.20</text>
<line x1="46.50" y1="377.90" x2="50.80" y2="377.90" stroke="#000" stroke-width="1.7"/>
<text transform="translate(45.60,381.00) scale(1.04,1)" font-size="9.8" text-anchor="end" class="tk">0.25</text>
<line x1="65.15" y1="513.20" x2="65.15" y2="517.40" stroke="#000" stroke-width="1.5"/>
<line x1="65.15" y1="386.14" x2="65.15" y2="396.14" stroke="#000" stroke-width="2.1"/>
<line x1="60.35" y1="386.14" x2="69.95" y2="386.14" stroke="#000" stroke-width="2.1"/>
<rect x="54.40" y="396.14" width="21.50" height="117.06" rx="0.7" fill="#000"/>
<text transform="translate(67.15,524.00) scale(1.07,1) rotate(-45)" font-size="8.8" text-anchor="end" >WT</text>
<line x1="94.10" y1="513.20" x2="94.10" y2="517.40" stroke="#000" stroke-width="1.5"/>
<text transform="translate(96.10,524.00) scale(1.07,1) rotate(-45)" font-size="8.8" text-anchor="end" >Q59L</text>
<line x1="123.05" y1="513.20" x2="123.05" y2="517.40" stroke="#000" stroke-width="1.5"/>
<line x1="123.05" y1="505.15" x2="123.05" y2="506.27" stroke="#000" stroke-width="2.1"/>
<line x1="118.25" y1="505.15" x2="127.85" y2="505.15" stroke="#000" stroke-width="2.1"/>
<rect x="112.30" y="506.27" width="21.50" height="6.93" rx="0.7" fill="#000"/>
<text transform="translate(125.05,524.00) scale(1.07,1) rotate(-45)" font-size="8.8" text-anchor="end" >Q59D</text>
<line x1="152.00" y1="513.20" x2="152.00" y2="517.40" stroke="#000" stroke-width="1.5"/>
<line x1="152.00" y1="484.37" x2="152.00" y2="485.49" stroke="#000" stroke-width="2.1"/>
<line x1="147.20" y1="484.37" x2="156.80" y2="484.37" stroke="#000" stroke-width="2.1"/>
<rect x="141.25" y="485.49" width="21.50" height="27.71" rx="0.7" fill="#000"/>
<text transform="translate(154.00,524.00) scale(1.07,1) rotate(-45)" font-size="8.8" text-anchor="end" >Q59E</text>
<line x1="180.95" y1="513.20" x2="180.95" y2="517.40" stroke="#000" stroke-width="1.5"/>
<text transform="translate(182.95,524.00) scale(1.07,1) rotate(-45)" font-size="8.8" text-anchor="end" >Q59F</text>
<line x1="209.90" y1="513.20" x2="209.90" y2="517.40" stroke="#000" stroke-width="1.5"/>
<line x1="209.90" y1="496.17" x2="209.90" y2="496.86" stroke="#000" stroke-width="2.1"/>
<line x1="205.10" y1="496.17" x2="214.70" y2="496.17" stroke="#000" stroke-width="2.1"/>
<rect x="199.15" y="496.86" width="21.50" height="16.34" rx="0.7" fill="#000"/>
<text transform="translate(211.90,524.00) scale(1.07,1) rotate(-45)" font-size="8.8" text-anchor="end" >Q59N</text>
<line x1="238.85" y1="513.20" x2="238.85" y2="517.40" stroke="#000" stroke-width="1.5"/>
<line x1="238.85" y1="446.10" x2="238.85" y2="458.05" stroke="#000" stroke-width="2.1"/>
<line x1="234.05" y1="446.10" x2="243.65" y2="446.10" stroke="#000" stroke-width="2.1"/>
<rect x="228.10" y="458.05" width="21.50" height="55.15" rx="0.7" fill="#000"/>
<text transform="translate(240.85,524.00) scale(1.07,1) rotate(-45)" font-size="8.8" text-anchor="end" >Q59H</text>
<text transform="translate(9.20,514.00) scale(0.946236559139785,1) rotate(-90)" font-size="9.3" text-anchor="start" textLength="138.40" lengthAdjust="spacing" >Glutaminase specific activity</text>
<text transform="translate(20.80,460.70) scale(0.946236559139785,1) rotate(-90)" font-size="9.3" text-anchor="start" textLength="30.60" lengthAdjust="spacing" >(U/mg)</text>
<text transform="translate(251.35,370.80) scale(1.05,1)" font-size="11.2" text-anchor="start" >F</text>
<line x1="316.50" y1="377.50" x2="316.50" y2="513.85" stroke="#000" stroke-width="1.7"/>
<line x1="315.65" y1="513.00" x2="520.00" y2="513.00" stroke="#000" stroke-width="2.0"/>
<line x1="312.20" y1="513.00" x2="316.50" y2="513.00" stroke="#000" stroke-width="1.7"/>
<text transform="translate(311.30,516.00) scale(1.04,1)" font-size="9.8" text-anchor="end" class="tk">0.000</text>
<line x1="312.20" y1="486.00" x2="316.50" y2="486.00" stroke="#000" stroke-width="1.7"/>
<text transform="translate(311.30,489.00) scale(1.04,1)" font-size="9.8" text-anchor="end" class="tk">0.001</text>
<line x1="312.20" y1="459.00" x2="316.50" y2="459.00" stroke="#000" stroke-width="1.7"/>
<text transform="translate(311.30,462.00) scale(1.04,1)" font-size="9.8" text-anchor="end" class="tk">0.002</text>
<line x1="312.20" y1="432.00" x2="316.50" y2="432.00" stroke="#000" stroke-width="1.7"/>
<text transform="translate(311.30,435.00) scale(1.04,1)" font-size="9.8" text-anchor="end" class="tk">0.003</text>
<line x1="312.20" y1="405.00" x2="316.50" y2="405.00" stroke="#000" stroke-width="1.7"/>
<text transform="translate(311.30,408.00) scale(1.04,1)" font-size="9.8" text-anchor="end" class="tk">0.004</text>
<line x1="312.20" y1="378.00" x2="316.50" y2="378.00" stroke="#000" stroke-width="1.7"/>
<text transform="translate(311.30,381.00) scale(1.04,1)" font-size="9.8" text-anchor="end" class="tk">0.005</text>
<line x1="331.00" y1="513.00" x2="331.00" y2="517.20" stroke="#000" stroke-width="1.5"/>
<line x1="331.00" y1="449.51" x2="331.00" y2="459.00" stroke="#000" stroke-width="2.1"/>
<line x1="326.20" y1="449.51" x2="335.80" y2="449.51" stroke="#000" stroke-width="2.1"/>
<rect x="320.30" y="459.00" width="21.40" height="54.00" rx="0.7" fill="#000"/>
<text transform="translate(333.00,523.90) scale(1.07,1) rotate(-45)" font-size="8.8" text-anchor="end" >WT</text>
<line x1="359.93" y1="513.00" x2="359.93" y2="517.20" stroke="#000" stroke-width="1.5"/>
<text transform="translate(361.93,523.90) scale(1.07,1) rotate(-45)" font-size="8.8" text-anchor="end" >Q59L</text>
<line x1="388.86" y1="513.00" x2="388.86" y2="517.20" stroke="#000" stroke-width="1.5"/>
<line x1="388.86" y1="499.60" x2="388.86" y2="501.80" stroke="#000" stroke-width="2.1"/>
<line x1="384.06" y1="499.60" x2="393.66" y2="499.60" stroke="#000" stroke-width="2.1"/>
<rect x="378.16" y="501.80" width="21.40" height="11.21" rx="0.7" fill="#000"/>
<text transform="translate(390.86,523.90) scale(1.07,1) rotate(-45)" font-size="8.8" text-anchor="end" >Q59D</text>
<line x1="417.79" y1="513.00" x2="417.79" y2="517.20" stroke="#000" stroke-width="1.5"/>
<line x1="417.79" y1="430.39" x2="417.79" y2="432.59" stroke="#000" stroke-width="2.1"/>
<line x1="412.99" y1="430.39" x2="422.59" y2="430.39" stroke="#000" stroke-width="2.1"/>
<rect x="407.09" y="432.59" width="21.40" height="80.41" rx="0.7" fill="#000"/>
<text transform="translate(419.79,523.90) scale(1.07,1) rotate(-45)" font-size="8.8" text-anchor="end" >Q59E</text>
<line x1="446.72" y1="513.00" x2="446.72" y2="517.20" stroke="#000" stroke-width="1.5"/>
<text transform="translate(448.72,523.90) scale(1.07,1) rotate(-45)" font-size="8.8" text-anchor="end" >Q59F</text>
<line x1="475.65" y1="513.00" x2="475.65" y2="517.20" stroke="#000" stroke-width="1.5"/>
<line x1="475.65" y1="455.18" x2="475.65" y2="457.65" stroke="#000" stroke-width="2.1"/>
<line x1="470.85" y1="455.18" x2="480.45" y2="455.18" stroke="#000" stroke-width="2.1"/>
<rect x="464.95" y="457.65" width="21.40" height="55.35" rx="0.7" fill="#000"/>
<text transform="translate(477.65,523.90) scale(1.07,1) rotate(-45)" font-size="8.8" text-anchor="end" >Q59N</text>
<line x1="504.58" y1="513.00" x2="504.58" y2="517.20" stroke="#000" stroke-width="1.5"/>
<line x1="504.58" y1="409.82" x2="504.58" y2="418.23" stroke="#000" stroke-width="2.1"/>
<line x1="499.78" y1="409.82" x2="509.38" y2="409.82" stroke="#000" stroke-width="2.1"/>
<rect x="493.88" y="418.23" width="21.40" height="94.77" rx="0.7" fill="#000"/>
<text transform="translate(506.58,523.90) scale(1.07,1) rotate(-45)" font-size="8.8" text-anchor="end" >Q59H</text>
<text transform="translate(275.70,504.00) scale(0.946236559139785,1) rotate(-90)" font-size="9.3" text-anchor="start" textLength="126.80" lengthAdjust="spacing" >Glutaminase:Asparaginase</text>
</g>
</svg>
</body></html>
